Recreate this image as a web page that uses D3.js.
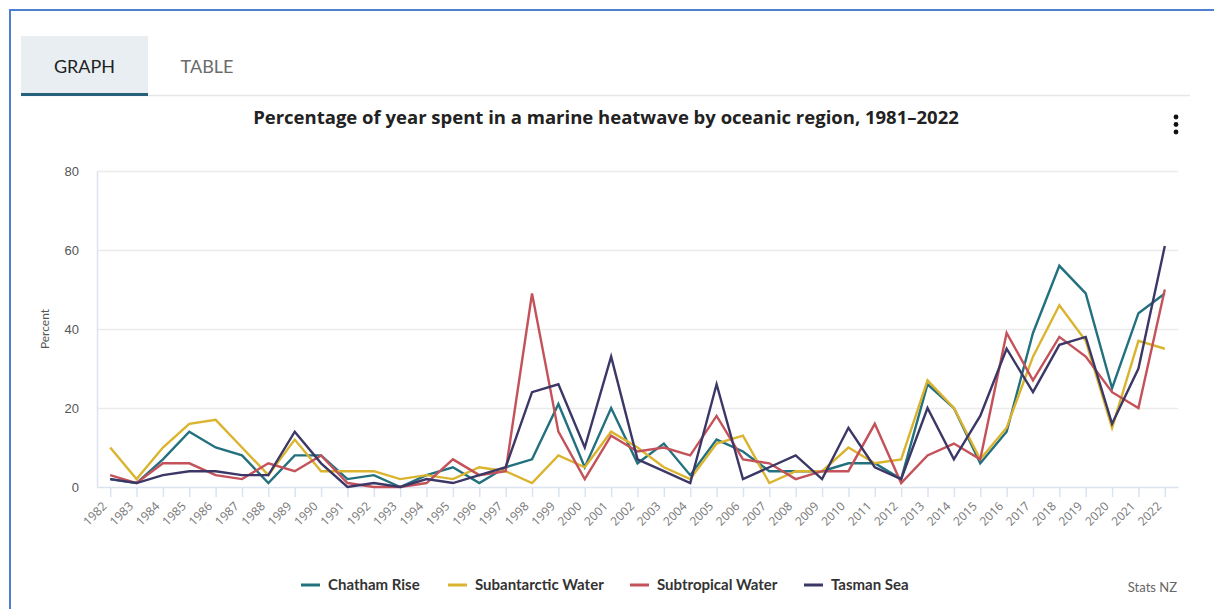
<!DOCTYPE html>
<html lang="en">
<head>
<meta charset="utf-8">
<title>Marine heatwave by oceanic region</title>
<script src="https://d3js.org/d3.v7.min.js"></script>
<style>
    body { margin: 0; background: #fff; font-family: Lato, 'Open Sans', sans-serif; }
    svg { display: block; }
    .grid line { stroke: #ebebeb; stroke-width: 1.5; }
    .grid path { stroke: none; }
    .yaxis text { font-size: 13px; fill: #555; }
    .xaxis text { font-size: 12px; fill: #777; font-family: 'Open Sans', sans-serif; }
    .legend text { font-size: 15px; font-weight: bold; fill: #333; }
</style>
</head>
<body>
<svg width="1214" height="609"></svg>
<script>
    const years = d3.range(1982, 2023);
    const yTicks = [0, 20, 40, 60, 80];
    const seriesNames = ['Chatham Rise', 'Subantarctic Water', 'Subtropical Water', 'Tasman Sea'];
    const seriesColors = ['#23707f', '#dbb42f', '#c4525a', '#3b3766'];

    const chatham = [2, 1, 7, 14, 10, 8, 1, 8, 8, 2, 3, 0, 3, 5, 1, 5, 7, 21, 5, 20, 6, 11, 3, 12, 9, 4, 4, 4, 6, 6, 2, 26, 20, 6, 14, 39, 56, 49, 25, 44, 49];
    const subantarctic = [10, 2, 10, 16, 17, 10, 3, 12, 4, 4, 4, 2, 3, 2, 5, 4, 1, 8, 5, 14, 10, 5, 2, 11, 13, 1, 4, 4, 10, 6, 7, 27, 20, 7, 15, 33, 46, 37, 15, 37, 35];
    const subtropical = [3, 1, 6, 6, 3, 2, 6, 4, 8, 1, 0, 0, 1, 7, 3, 4, 49, 14, 2, 13, 9, 10, 8, 18, 7, 6, 2, 4, 4, 16, 1, 8, 11, 7, 39, 27, 38, 33, 24, 20, 50];
    const tasman = [2, 1, 3, 4, 4, 3, 3, 14, 6, 0, 1, 0, 2, 1, 3, 5, 24, 26, 10, 33, 7, 4, 1, 26, 2, 5, 8, 2, 15, 5, 2, 20, 7, 18, 35, 24, 36, 38, 16, 30, 61];
    const seriesValues = [chatham, subantarctic, subtropical, tasman];

    const svg = d3.select('svg');

    // page frame
    svg.append('rect')
        .attr('x', 10).attr('y', 10)
        .attr('width', 1220).attr('height', 620)
        .attr('fill', 'none')
        .attr('stroke', '#4f7fd3')
        .attr('stroke-width', 2);

    // tabs
    svg.append('line')
        .attr('x1', 21).attr('x2', 1190)
        .attr('y1', 95.5).attr('y2', 95.5)
        .attr('stroke', '#e6e6e6').attr('stroke-width', 1.5);
    svg.append('rect')
        .attr('x', 21).attr('y', 36)
        .attr('width', 127).attr('height', 58)
        .attr('fill', '#e8eef2');
    svg.append('rect')
        .attr('x', 21).attr('y', 93)
        .attr('width', 127).attr('height', 3)
        .attr('fill', '#26607a');
    svg.append('text')
        .attr('x', 84.5).attr('y', 73)
        .attr('text-anchor', 'middle')
        .style('font-size', '18px').style('fill', '#222')
        .text('GRAPH');
    svg.append('text')
        .attr('x', 207).attr('y', 73)
        .attr('text-anchor', 'middle')
        .style('font-size', '18px').style('fill', '#6b6b6b')
        .text('TABLE');

    // title
    svg.append('text')
        .attr('x', 606).attr('y', 124)
        .attr('text-anchor', 'middle')
        .style('font-family', "'Open Sans', sans-serif")
        .style('font-size', '18.5px').style('font-weight', 'bold').style('fill', '#222')
        .text('Percentage of year spent in a marine heatwave by oceanic region, 1981\u20132022');

    // menu dots
    svg.selectAll('circle.dot')
        .data([117, 124.5, 132])
        .enter().append('circle')
        .attr('class', 'dot')
        .attr('cx', 1176).attr('cy', d => d)
        .attr('r', 2.4)
        .attr('fill', '#111');

    const plotLeft = 97, plotRight = 1178, plotTop = 171, plotBottom = 487;

    const x = d3.scalePoint()
        .domain(years)
        .range([plotLeft, plotRight])
        .padding(0.5);

    const y = d3.scaleLinear()
        .domain([0, 80])
        .range([plotBottom, plotTop]);

    // horizontal grid
    svg.append('g')
        .attr('class', 'grid')
        .attr('transform', `translate(${plotLeft},0)`)
        .call(d3.axisLeft(y).tickValues(yTicks.slice(1)).tickSize(-(plotRight - plotLeft)).tickFormat(''));

    // y axis labels
    const yAxis = svg.append('g')
        .attr('class', 'yaxis')
        .attr('transform', `translate(${plotLeft},0)`)
        .call(d3.axisLeft(y).tickValues(yTicks).tickSize(0).tickPadding(18));
    yAxis.select('.domain').attr('stroke', '#dbe3f1').attr('stroke-width', 1.5);

    svg.append('text')
        .attr('transform', `translate(49, ${(plotTop + plotBottom) / 2}) rotate(-90)`)
        .attr('text-anchor', 'middle')
        .style('font-size', '12px').style('fill', '#555')
        .text('Percent');

    // x axis
    const xAxis = svg.append('g')
        .attr('class', 'xaxis')
        .attr('transform', `translate(0,${plotBottom})`)
        .call(d3.axisBottom(x).tickSize(10).tickSizeOuter(0));
    xAxis.select('.domain').attr('stroke', '#dbe3f1').attr('stroke-width', 1.5);
    xAxis.selectAll('.tick line').attr('stroke', '#dbe3f1').attr('stroke-width', 1.5);
    xAxis.selectAll('.tick text')
        .attr('text-anchor', 'end')
        .attr('x', 0).attr('y', 0).attr('dy', 0)
        .attr('transform', 'translate(-3,20) rotate(-45)');

    // lines
    const line = d3.line()
        .x((d, i) => x(years[i]))
        .y(d => y(d));

    svg.append('g')
        .selectAll('path')
        .data(seriesValues)
        .enter().append('path')
        .attr('d', line)
        .attr('fill', 'none')
        .attr('stroke', (d, i) => seriesColors[i])
        .attr('stroke-width', 2.4)
        .attr('stroke-linejoin', 'miter');

    // legend
    const legendX = [301, 448, 630, 804];
    const legend = svg.append('g')
        .attr('class', 'legend')
        .selectAll('g')
        .data(seriesNames)
        .enter().append('g')
        .attr('transform', (d, i) => `translate(${legendX[i]},585)`);
    legend.append('line')
        .attr('x1', 0).attr('x2', 19)
        .attr('y1', 0).attr('y2', 0)
        .attr('stroke', (d, i) => seriesColors[i])
        .attr('stroke-width', 3);
    legend.append('text')
        .attr('x', 27).attr('y', 5)
        .text(d => d);

    svg.append('text')
        .attr('x', 1177).attr('y', 592)
        .attr('text-anchor', 'end')
        .style('font-size', '13px').style('fill', '#666')
        .text('Stats NZ');
</script>
</body>
</html>
